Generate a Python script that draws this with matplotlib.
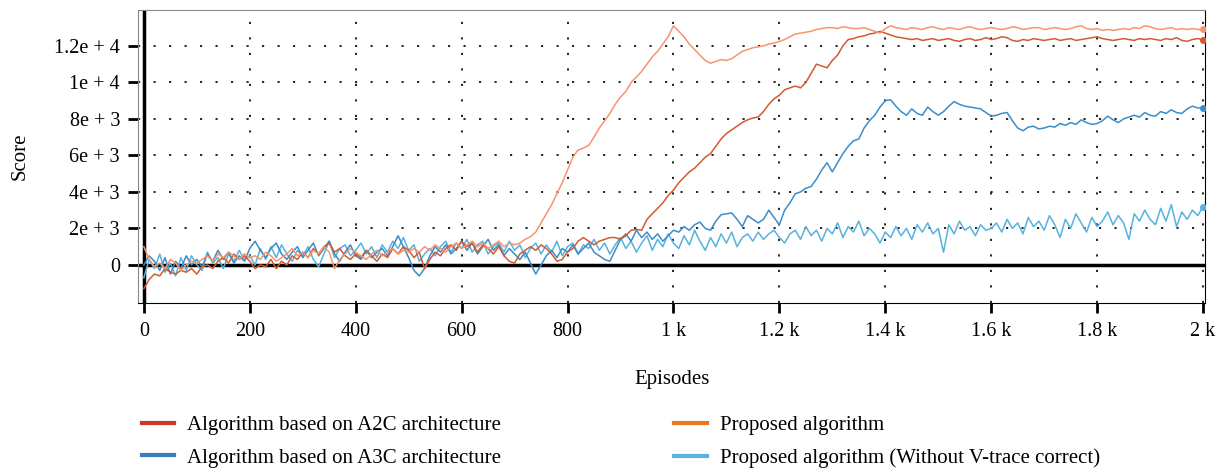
import numpy as np
import matplotlib
matplotlib.use("Agg")
import matplotlib.pyplot as plt
from matplotlib.lines import Line2D

# episodes sampled every 10 steps
episodes = np.arange(0, 2001, 10)

proposed = [
    1000, 300, -100, 100, -200, 300, 100, -300, 0, 200, 100,
    300, 500, 200, 600, 400, 700, 500, 300, 600, 400,
    500, 300, 700, 500, 200, 400, 600, 900, 500, 700,
    400, 800, 600, 1000, 700, -200, 300, 600, 900, 700,
    500, 300, 600, 800, 500, 700, 900, 600, 800, 700,
    900, 700, 1000, 800, 1100, 900, 700, 1000, 1200, 900,
    1100, 1300, 1000, 1200, 900, 1100, 1300, 1000, 1200, 1100,
    1200, 1400, 1550, 1800, 2300, 2800, 3300, 3900, 4500, 5200,
    5900, 6300, 6400, 6550, 7000, 7500, 7900, 8300, 8800, 9200,
    9500, 10000, 10300, 10600, 11000, 11400, 11700, 12100, 12500, 13100,
    12800, 12500, 12100, 11800, 11500, 11200, 11050, 11150, 11250, 11200,
    11300, 11500, 11700, 11800, 11900, 11950, 12000, 12100, 12150, 12250,
    12350, 12500, 12650, 12700, 12750, 12800, 12900, 12950, 13000, 13000,
    12950, 13050, 13000, 12950,
    12950, 13000, 12900, 12800, 12700, 12950, 13100, 13000, 12950, 12900,
    13000, 12950, 12900, 13000, 13050, 12950, 12900, 13000, 12950, 12900,
    13000, 13050, 12950, 12900, 12950, 13000, 12950, 12900, 12950, 13050,
    13000, 12900, 12950, 13000, 13000, 12900, 12950, 13000, 12950, 12900,
    12950, 13050, 13100, 12950, 12900, 12950, 12850, 12900, 12850, 12900,
    12950, 12900, 13000, 12950, 13100, 13050, 12950, 12900, 12950, 13000,
    12900, 12950, 12900, 12950, 12900, 12900,
]

a2c = [
    -1300, -800, -500, -600, -200, -400, -500, -300, -400, -200, -500,
    -100, 0, -200, 200, 400, 100, 600, 300, 500, 200,
    -200, 0, -100, 300, -200, 200, 0, 500, 300, 700,
    400, 900, 600, 1000, 1200, 700, 900, 500, 300, 600,
    400, 800, 500, 200, 600, 400, 900, 600, 1000, 800,
    400, 700, -200, 300, 700, 500, 900, 1100, 800, 1300,
    1000, 1200, 700, 1100, 900, 600, 1000, 500, 200, 100,
    600, 800, 1000, 800, 1100, 900, 600, 200, 300, 700,
    900, 1300, 1500, 1300, 1100, 1300, 1400, 1500, 1500, 1400,
    1600, 1900, 1950, 1900, 2500, 2800, 3100, 3400, 3800, 4100,
    4500, 4800, 5100, 5300, 5600, 5900, 6100, 6500, 6900, 7200,
    7400, 7600, 7800, 7950, 8050, 8100, 8400, 8800, 9100, 9300,
    9600, 9700, 9800, 9700, 10000, 10500, 11000, 10900, 10800, 11200,
    11500, 12000, 12350, 12400, 12500, 12550, 12650, 12700, 12800, 12700,
    12600, 12500, 12450, 12400, 12350, 12400, 12300, 12350, 12400, 12300,
    12350, 12400, 12300, 12250, 12350, 12400, 12300, 12350, 12450, 12350,
    12400, 12500, 12450, 12300, 12250, 12350, 12300, 12400, 12350, 12300,
    12350, 12400, 12300, 12350, 12400, 12300, 12350, 12400, 12450, 12500,
    12400, 12350, 12300, 12350, 12400, 12350, 12300, 12400, 12350, 12400,
    12350, 12300, 12400, 12350, 12450, 12300, 12250, 12350, 12400, 12350,
]

a3c = [
    0, 500, 200, -300, 400, -500, 200, -200, 500, 0, 300,
    -100, 600, 200, 800, 300, 700, 100, 500, 200, 900,
    1300, 800, 400, 900, 1200, 600, 300, 700, 1000, 400,
    800, 1200, 500, 900, 1300, 600, 200, 700, 1100, 500,
    300, 800, 400, 700, 900, 500, 1000, 1600, 1000, 400,
    -300, -600, -200, 500, 1000, 700, 1100, 600, 900, 1300,
    800, 1200, 600, 1000, 1400, 800, 1100, 500, 900, 600,
    300, 700, 100, -500, 0, 500, 800, 400, 900, 700,
    1100, 600, 900, 1200, 700, 500, 300, 200, 800, 1400,
    1700, 1300, 1900, 1500, 1800, 1400, 1700, 1300, 1600, 1900,
    1800, 2100, 1900, 2200, 2350, 2000, 1900, 2400, 2750, 2800,
    2850, 2500, 2100, 2700, 2500, 2300, 2500, 3000, 2600, 2200,
    3000, 3400, 3900, 4000, 4200, 4300, 4700, 5200, 5600, 5100,
    5600, 6100, 6500, 6800, 6900, 7500, 7900, 8200, 8650, 9000,
    9050, 8700, 8400, 8200, 8550, 8300, 8200, 8650, 8400, 8200,
    8400, 8700, 8950, 8800, 8700, 8650, 8600, 8550, 8350, 8150,
    8200, 8300, 8350, 7900, 7500, 7350, 7550, 7600, 7450, 7500,
    7600, 7550, 7750, 7650, 7800, 7700, 7950, 7800, 7700, 7750,
    7900, 8150, 7950, 7800, 8000, 8100, 8200, 8100, 8350, 8200,
    8150, 8400, 8300, 8500, 8350, 8300, 8550, 8700, 8600, 8600,
]

no_vtrace = [
    -700, 300, -200, 600, -400, 100, -600, 400, -300, 500, 0,
    -300, 700, 100, 400, -200, 600, 200, 800, 300, 500,
    0, 900, 300, 1000, 400, 1100, 600, 200, 800, 500,
    1000, 300, -100, 600, 1300, 400, 900, 1100, 500, 800,
    1200, 600, 1000, 400, 1100, 700, 1300, 900, 1500, 800,
    1100, 200, 600, 900, 500, 1000, 1300, 700, 1200, 900,
    1400, 700, 1100, 1300, 600, 1000, 1200, 700, 1300, 800,
    1100, 400, 900, 1200, 600, 1100, 700, 1300, 500, 1000,
    1200, 600, 1100, 900, 1400, 800, 1200, 600, 1100, 1500,
    900, 1300, 700, 1200, 1600, 800, 1400, 1000, 1700, 1200,
    900, 1600, 1100, 1900, 1300, 800, 1500, 1000, 1700, 1200,
    1800, 1000, 1500, 1700, 1300, 1800, 1400, 1700, 1900, 1500,
    1200, 1700, 1900, 1400, 2100, 1600, 1900, 1300, 2000, 1700,
    2300, 1500, 2100, 1800, 2400, 1600, 2000, 1700, 1200, 1800,
    1500, 2100, 1600, 2000, 1400, 2200, 1800, 2300, 1700, 2000,
    700, 2200, 1700, 2400, 1900, 2100, 1600, 2200, 1900, 2000,
    2300, 1800, 2500, 2000, 2300, 1700, 2600, 2100, 2400, 1900,
    2700, 2200, 1500, 2500, 2000, 2800, 2300, 1800, 2600, 2100,
    2400, 2900, 2200, 2700, 2300, 1400, 2800, 2400, 3000, 2500,
    2200, 3100, 2400, 3300, 2100, 2900, 2500, 3000, 2700, 3200,
]

# legend order (column-wise): A2C, A3C | proposed, proposed w/o V-trace
labels = ["Algorithm based on A2C architecture",
          "Algorithm based on A3C architecture",
          "Proposed algorithm",
          "Proposed algorithm (Without V-trace correct)"]
legend_colors = ["#c8372a", "#3a7cc0", "#e8771f", "#5ab4e0"]

xticks = [0, 200, 400, 600, 800, 1000, 1200, 1400, 1600, 1800, 2000]
xticklabels = ["0", "200", "400", "600", "800", "1 k", "1.2 k", "1.4 k", "1.6 k", "1.8 k", "2 k"]
yticks = [0, 2000, 4000, 6000, 8000, 10000, 12000]
yticklabels = ["0", "2e + 3", "4e + 3", "6e + 3", "8e + 3", "1e + 4", "1.2e + 4"]

line_colors = {"a2c": "#d45a2e", "prop": "#f8946c", "a3c": "#3a8dcb", "nov": "#57b2df"}

plt.rcParams["font.family"] = ["Liberation Serif", "DejaVu Serif"]

fig = plt.figure(figsize=(12.28, 4.74), dpi=100)
ax = fig.add_axes([0.1124, 0.361, 0.869, 0.618])

ax.plot(episodes, no_vtrace, color=line_colors["nov"], lw=1.1, zorder=3)
ax.plot(episodes, a3c, color=line_colors["a3c"], lw=1.1, zorder=4)
ax.plot(episodes, a2c, color=line_colors["a2c"], lw=1.1, zorder=5)
ax.plot(episodes, proposed, color=line_colors["prop"], lw=1.1, zorder=6)

# end markers
ax.plot(episodes[-1], no_vtrace[-1], "o", color=line_colors["nov"], ms=4, zorder=7)
ax.plot(episodes[-1], a3c[-1], "o", color=line_colors["a3c"], ms=4, zorder=7)
ax.plot(episodes[-1], a2c[-1], "o", color=line_colors["a2c"], ms=4, zorder=7)
ax.plot(episodes[-1], proposed[-1], "o", color=line_colors["prop"], ms=4, zorder=7)

ax.axhline(0, color="black", lw=2.5, zorder=2)
ax.axvline(0, color="black", lw=2.5, zorder=2)

ax.set_xlim(-11, 2004)
ax.set_ylim(-2080, 13970)
ax.set_xticks(xticks)
ax.set_xticklabels(xticklabels)
ax.set_yticks(yticks)
ax.set_yticklabels(yticklabels)
ax.tick_params(axis="both", direction="out", length=7, width=2, labelsize=14.5, colors="black")
ax.tick_params(axis="x", pad=7)
ax.tick_params(axis="y", pad=6)
ax.grid(True, color="black", linestyle=(0, (1.3, 8)), lw=1.2)

for side in ["left", "top"]:
    ax.spines[side].set_color("#888888")
for side in ["right", "bottom"]:
    ax.spines[side].set_color("black")

ax.set_xlabel("Episodes", fontsize=15)
ax.set_ylabel("Score", fontsize=15)
ax.xaxis.set_label_coords(0.5, -0.229)
ax.yaxis.set_label_coords(-0.102, 0.5)

handles = [Line2D([0], [0], color=c, lw=3) for c in legend_colors]
fig.legend(handles, labels, ncol=2, loc="upper left", bbox_to_anchor=(0.1000, 0.1627),
           frameon=False, fontsize=15, handlelength=1.55, handletextpad=0.65,
           columnspacing=8.3, labelspacing=0.62, borderpad=0.4)

fig.savefig("out.png", dpi=100)
